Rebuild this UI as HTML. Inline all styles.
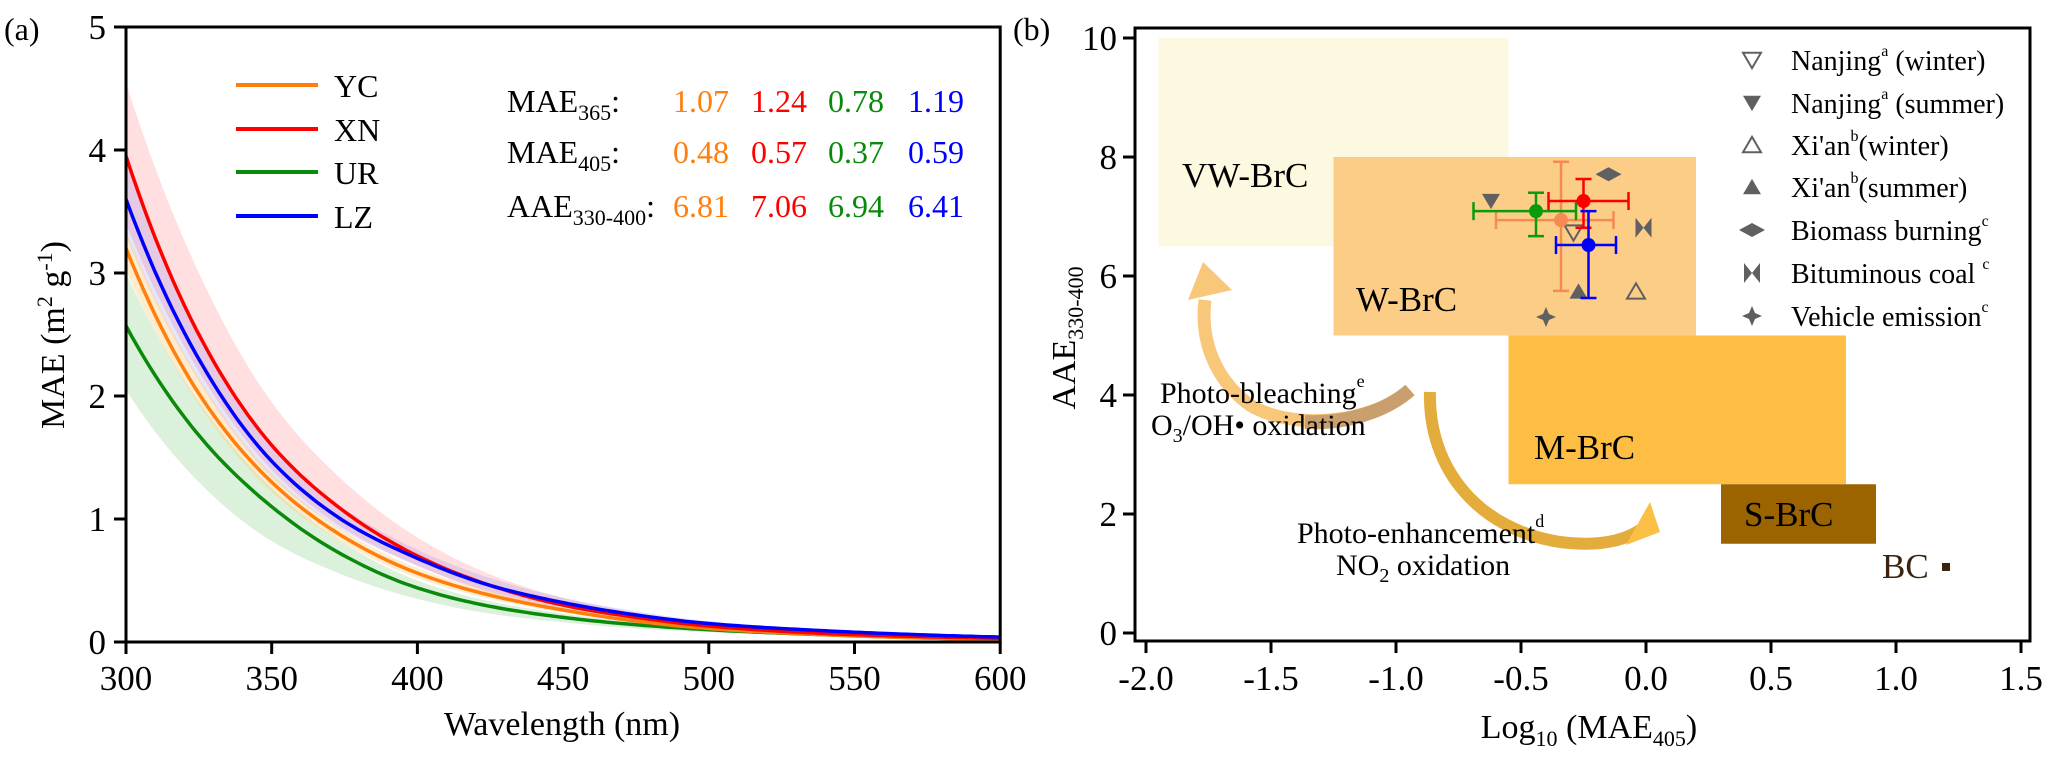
<!DOCTYPE html>
<html><head><meta charset="utf-8"><style>
html,body{margin:0;padding:0;background:#fff;}
svg{display:block;}
svg text, svg tspan{font-family:"Liberation Serif","DejaVu Serif","Times New Roman",Times,serif !important;}
</style></head><body>
<svg id="chart" width="2067" height="757" viewBox="0 0 2067 757" xmlns="http://www.w3.org/2000/svg"></svg>
<script>
// ---------- Panel (a) data ----------
const wl = [300,325,350,375,400,425,450,475,500,550,600];
const YC = [3.20,2.02,1.30,0.85,0.56,0.38,0.26,0.17,0.11,0.05,0.02];
const XN = [3.95,2.50,1.60,1.06,0.70,0.46,0.30,0.20,0.13,0.06,0.03];
const UR = [2.57,1.68,1.10,0.70,0.44,0.29,0.20,0.14,0.10,0.05,0.02];
const LZ = [3.60,2.30,1.47,0.98,0.68,0.46,0.32,0.22,0.15,0.08,0.04];
const XN_hi = [4.55,3.00,1.95,1.30,0.85,0.55,0.36,0.24,0.15,0.07,0.035];
const XN_lo = [3.40,2.20,1.40,0.92,0.62,0.40,0.26,0.17,0.11,0.05,0.02];
const UR_hi = [3.00,1.95,1.25,0.80,0.50,0.33,0.23,0.16,0.11,0.06,0.03];
const UR_lo = [2.05,1.30,0.82,0.54,0.35,0.23,0.16,0.11,0.08,0.04,0.01];
const LZ_hi = [3.90,2.50,1.58,1.08,0.75,0.52,0.36,0.25,0.17,0.09,0.05];
const LZ_lo = [3.30,2.12,1.34,0.90,0.62,0.41,0.28,0.19,0.13,0.07,0.03];
const YC_hi = [3.35,2.15,1.37,0.90,0.60,0.41,0.28,0.19,0.12,0.06,0.03];
const YC_lo = [3.02,1.93,1.22,0.80,0.52,0.35,0.24,0.16,0.10,0.04,0.015];
const aXTicks = [300,350,400,450,500,550,600];
const aYTicks = [0,1,2,3,4,5];
const siteNames = ["YC","XN","UR","LZ"];
const mae365 = ["1.07","1.24","0.78","1.19"];
const mae405 = ["0.48","0.57","0.37","0.59"];
const aae = ["6.81","7.06","6.94","6.41"];

// ---------- Panel (b) data ----------
const classNames = ["VW-BrC","W-BrC","M-BrC","S-BrC"];
const classX0 = [-1.95,-1.25,-0.55,0.30];
const classX1 = [-0.55,0.20,0.80,0.92];
const classY0 = [6.5,5.0,2.5,1.5];
const classY1 = [10,8.0,5.0,2.5];
const siteX = [-0.34,-0.25,-0.44,-0.23];
const siteY = [6.94,7.26,7.09,6.52];
const siteXlo = [-0.60,-0.39,-0.69,-0.36];
const siteXhi = [-0.13,-0.07,-0.28,-0.12];
const siteYlo = [5.75,6.81,6.67,5.63];
const siteYhi = [7.92,7.63,7.40,7.09];
const refNames = ["Nanjing winter","Nanjing summer","Xi'an winter","Xi'an summer","Biomass burning","Bituminous coal","Vehicle emission"];
const refX = [-0.29,-0.62,-0.04,-0.27,-0.15,-0.01,-0.40];
const refY = [6.73,7.26,5.74,5.74,7.71,6.81,5.31];
const bcX = [1.2];
const bcY = [1.11];
const bXTicks = [-2.0,-1.5,-1.0,-0.5,0.0,0.5,1.0,1.5];
const bYTicks = [0,2,4,6,8,10];

const NS = "http://www.w3.org/2000/svg";
const svg = document.getElementById('chart');
function el(tag, attrs, parent){const e=document.createElementNS(NS,tag);for(const k in attrs)e.setAttribute(k,attrs[k]);(parent||svg).appendChild(e);return e;}
function txt(x,y,s,size,attrs,parent){const t=el('text',Object.assign({x:x,y:y,'font-size':size,'font-family':"'Liberation Serif','DejaVu Serif',serif"},attrs||{}),parent);t.innerHTML=s;t.style.fontFamily="'Liberation Serif','DejaVu Serif',serif";return t;}

const ax = v => 126 + (v-300)*145.7/50;
const ay = v => 642 - v*123;
const bx = v => 1646 + v*250;
const by = v => 633 - v*59.5;

function interpLog(vals, w){
  const n=wl.length; let i=0;
  while(i<n-2 && w>wl[i+1]) i++;
  const t=(w-wl[i])/(wl[i+1]-wl[i]);
  const L=k=>Math.log(vals[Math.max(0,Math.min(n-1,k))]);
  const X=k=>wl[Math.max(0,Math.min(n-1,k))];
  const p1=L(i),p2=L(i+1);
  const m1=(L(i+1)-L(i-1))/(X(i+1)-X(i-1)||1)*(wl[i+1]-wl[i]);
  const m2=(L(i+2)-L(i))/(X(i+2)-X(i)||1)*(wl[i+1]-wl[i]);
  const t2=t*t,t3=t2*t;
  return Math.exp((2*t3-3*t2+1)*p1+(t3-2*t2+t)*m1+(-2*t3+3*t2)*p2+(t3-t2)*m2);
}
function dense(vals){const pts=[];for(let w=wl[0];w<=wl[wl.length-1];w+=2)pts.push([ax(w),ay(interpLog(vals,w))]);return pts;}
function poly(pts){return 'M'+pts.map(p=>p[0].toFixed(1)+','+p[1].toFixed(1)).join(' L');}

// ----- Panel a -----
const ga = el('g',{});


const bands = [[XN_hi,XN_lo,'rgba(255,80,80,0.18)','xn-band'],[UR_hi,UR_lo,'rgba(60,180,60,0.18)','ur-band'],[LZ_hi,LZ_lo,'rgba(90,90,255,0.15)','lz-band'],[YC_hi,YC_lo,'rgba(255,200,110,0.35)','yc-band']];
bands.forEach(b=>{const up=dense(b[0]),dn=dense(b[1]).reverse();
const p=el('path',{d:poly(up.concat(dn))+' Z',fill:b[2],stroke:'none'},ga);

});
const series = [[UR,'#0a8a0a','ur-line'],[YC,'#ff7f0e','yc-line'],[XN,'#ff0000','xn-line'],[LZ,'#0000ff','lz-line']];
series.forEach(s=>{const p=el('path',{d:poly(dense(s[0])),fill:'none',stroke:s[1],'stroke-width':3.5},ga);

});
el('rect',{x:126,y:27,width:ax(600)-126,height:642-27,fill:'none',stroke:'#000','stroke-width':3},ga);
aXTicks.forEach(v=>{el('line',{x1:ax(v),x2:ax(v),y1:642,y2:654,stroke:'#000','stroke-width':3},ga);
const t=txt(ax(v),690,String(v),35,{'text-anchor':'middle'},ga);

});
aYTicks.forEach(v=>{el('line',{x1:114,x2:126,y1:ay(v),y2:ay(v),stroke:'#000','stroke-width':3},ga);
const t=txt(106,ay(v)+12,String(v),35,{'text-anchor':'end'},ga);

});
let t;
t=txt(562,735,'Wavelength (nm)',34,{'text-anchor':'middle'},ga);


t=txt(0,0,'MAE (m<tspan dy="-12" font-size="22">2</tspan><tspan dy="12"> g</tspan><tspan dy="-12" font-size="22">-1</tspan><tspan dy="12">)</tspan>',34,{'text-anchor':'middle',transform:'translate(64,335) rotate(-90)'},ga);


t=txt(4,40,'(a)',32,{},ga);


const legCols=['#ff7f0e','#ff0000','#0a8a0a','#0000ff'];
siteNames.forEach((n,i)=>{const y=[85,129,172,216][i];
const g=el('g',{},ga);


el('line',{x1:236,x2:318,y1:y,y2:y,stroke:legCols[i],'stroke-width':4},g);
txt(334,y+12,n,32,{},g);});
const rowsY=[112,163,217];
const rowLbl=['MAE<tspan font-size="22" dy="8">365</tspan><tspan dy="-8">:</tspan>','MAE<tspan font-size="22" dy="8">405</tspan><tspan dy="-8">:</tspan>','AAE<tspan font-size="22" dy="8">330-400</tspan><tspan dy="-8">:</tspan>'];
const rowVals=[mae365,mae405,aae];
const colX=[673,751,828,908];
rowLbl.forEach((l,r)=>{t=txt(507,rowsY[r],l,32,{},ga);


rowVals[r].forEach((v,c)=>{const tv=txt(colX[c],rowsY[r],v,32,{fill:legCols[c]},ga);

});});

// ----- Panel b -----
const gb = el('g',{});


const classFill=['#fdf9e1','#fbcd87','#fdbe43','#9c6400'];
classNames.forEach((n,i)=>{const r=el('rect',{x:bx(classX0[i]),y:by(classY1[i]),width:bx(classX1[i])-bx(classX0[i]),height:by(classY0[i])-by(classY1[i]),fill:classFill[i]},gb);

});
const lblPos=[[1182,187],[1356,311],[1534,459],[1744,526]];
classNames.forEach((n,i)=>{const tl=txt(lblPos[i][0],lblPos[i][1],n,35,{},gb);

});
let a1=el('path',{d:'M1410,390 C1370,425 1290,430 1250,405 C1215,380 1200,340 1205,300',fill:'none',stroke:'#f9c77a','stroke-width':13},gb);


el('path',{d:'M1410,390 C1385,412 1345,424 1305,422',fill:'none',stroke:'#c9a06d','stroke-width':14},gb);
el('polygon',{points:'1188,300 1232,290 1203,262',fill:'#f9c77a'},gb);
let a2=el('path',{d:'M1430,392 C1428,470 1480,530 1560,542 C1600,547 1625,540 1640,530',fill:'none',stroke:'#e4ac3a','stroke-width':12},gb);


el('polygon',{points:'1660,532 1650,502 1626,545',fill:'#fbbf45'},gb);
t=txt(1160,403,'Photo-bleaching<tspan dy="-16" font-size="18">e</tspan>',30,{},gb);


t=txt(1151,435,'O<tspan dy="7" font-size="20">3</tspan><tspan dy="-7">/OH•  oxidation</tspan>',30,{},gb);


t=txt(1297,543,'Photo-enhancement<tspan dy="-16" font-size="18">d</tspan>',30,{},gb);


t=txt(1336,575,'NO<tspan dy="7" font-size="20">2</tspan><tspan dy="-7"> oxidation</tspan>',30,{},gb);


const gray='#606060';
function marker(kind,x,y,parent){
  const s=9;
  if(kind===0) return el('polygon',{points:`${x-s},${y-s*0.8} ${x+s},${y-s*0.8} ${x},${y+s*0.9}`,fill:'none',stroke:gray,'stroke-width':2},parent);
  if(kind===1) return el('polygon',{points:`${x-s},${y-s*0.8} ${x+s},${y-s*0.8} ${x},${y+s*0.9}`,fill:gray},parent);
  if(kind===2) return el('polygon',{points:`${x-s},${y+s*0.8} ${x+s},${y+s*0.8} ${x},${y-s*0.9}`,fill:'none',stroke:gray,'stroke-width':2},parent);
  if(kind===3) return el('polygon',{points:`${x-s},${y+s*0.8} ${x+s},${y+s*0.8} ${x},${y-s*0.9}`,fill:gray},parent);
  if(kind===4) return el('polygon',{points:`${x-13},${y} ${x},${y-7} ${x+13},${y} ${x},${y+7}`,fill:gray},parent);
  if(kind===5) return el('polygon',{points:`${x-8},${y-10} ${x+8},${y+10} ${x+8},${y-10} ${x-8},${y+10}`,fill:gray},parent);
  return el('polygon',{points:`${x},${y-10} ${x+3},${y-3} ${x+10},${y} ${x+3},${y+3} ${x},${y+10} ${x-3},${y+3} ${x-10},${y} ${x-3},${y-3}`,fill:gray},parent);
}
refNames.forEach((n,i)=>{const m=marker(i,bx(refX[i]),by(refY[i]),gb);

});
const siteCols=['#f78a50','#ff0000','#0a9a0a','#0000ff'];
[0,2,1,3].forEach(i=>{const g=el('g',{stroke:siteCols[i],'stroke-width':2.5},gb);


const cx=bx(siteX[i]),cy=by(siteY[i]);
el('line',{x1:bx(siteXlo[i]),x2:bx(siteXhi[i]),y1:cy,y2:cy},g);
el('line',{x1:cx,x2:cx,y1:by(siteYlo[i]),y2:by(siteYhi[i])},g);
[bx(siteXlo[i]),bx(siteXhi[i])].forEach(x=>el('line',{x1:x,x2:x,y1:cy-9,y2:cy+9},g));
[by(siteYlo[i]),by(siteYhi[i])].forEach(y=>el('line',{x1:cx-8,x2:cx+8,y1:y,y2:y},g));
el('circle',{cx:cx,cy:cy,r:7,fill:siteCols[i],stroke:'none'},g);});
const bc=el('rect',{x:bx(bcX[0])-4,y:by(bcY[0])-4,width:8,height:8,fill:'#3a2410'},gb);


t=txt(1882,578,'BC',35,{fill:'#3a2410'},gb);


const legTxt=['Nanjing<tspan dy="-14" font-size="16">a</tspan><tspan dy="14"> (winter)</tspan>','Nanjing<tspan dy="-14" font-size="16">a</tspan><tspan dy="14"> (summer)</tspan>','Xi\'an<tspan dy="-14" font-size="16">b</tspan><tspan dy="14">(winter)</tspan>','Xi\'an<tspan dy="-14" font-size="16">b</tspan><tspan dy="14">(summer)</tspan>','Biomass burning<tspan dy="-14" font-size="16">c</tspan>','Bituminous coal <tspan dy="-14" font-size="16">c</tspan>','Vehicle emission<tspan dy="-14" font-size="16">c</tspan>'];
const legY=[60,103,145,187,230,273,316];
legTxt.forEach((s,i)=>{const g=el('g',{},gb);


marker(i,1752,legY[i],g);
txt(1791,legY[i]+10,s,28,{},g);});
el('rect',{x:1135,y:28,width:2030-1135,height:641-28,fill:'none',stroke:'#000','stroke-width':3},gb);
bXTicks.forEach(v=>{el('line',{x1:bx(v),x2:bx(v),y1:641,y2:653,stroke:'#000','stroke-width':3},gb);
const tl=txt(bx(v),690,v.toFixed(1),35,{'text-anchor':'middle'},gb);

});
bYTicks.forEach(v=>{el('line',{x1:1123,x2:1135,y1:by(v),y2:by(v),stroke:'#000','stroke-width':3},gb);
const tl=txt(1117,by(v)+12,String(v),35,{'text-anchor':'end'},gb);

});
t=txt(1589,738,'Log<tspan dy="8" font-size="22">10</tspan><tspan dy="-8"> (MAE</tspan><tspan dy="8" font-size="22">405</tspan><tspan dy="-8">)</tspan>',34,{'text-anchor':'middle'},gb);


t=txt(0,0,'AAE<tspan dy="8" font-size="22">330-400</tspan>',34,{'text-anchor':'middle',transform:'translate(1075,338) rotate(-90)'},gb);


t=txt(1013,40,'(b)',32,{},gb);


</script>
</body></html>
